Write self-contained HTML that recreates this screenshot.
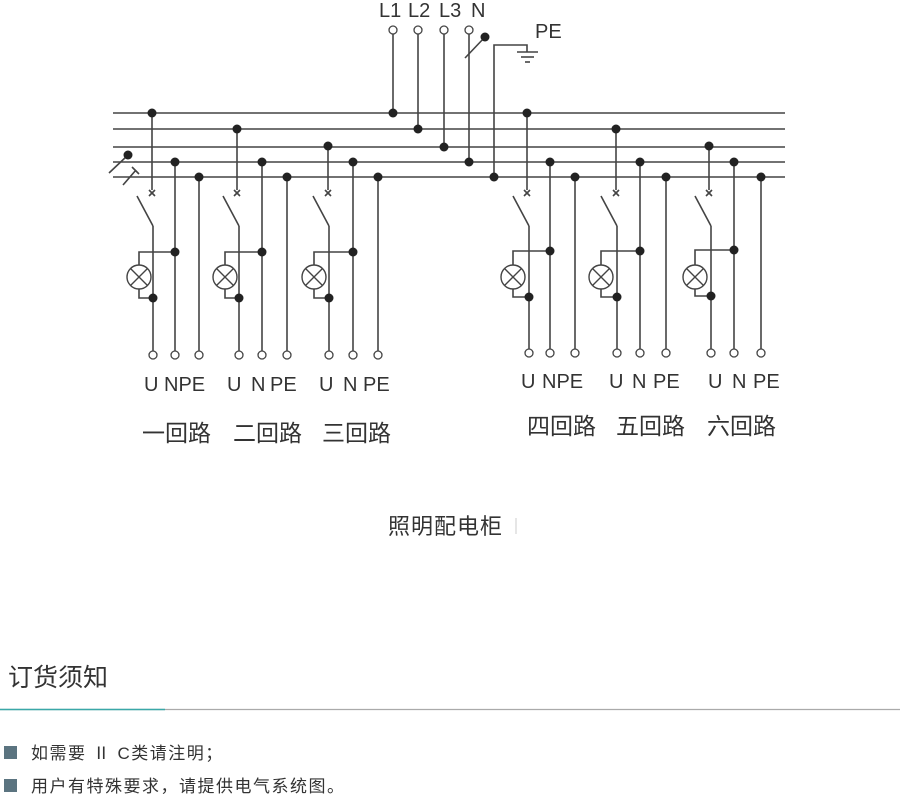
<!DOCTYPE html>
<html><head><meta charset="utf-8"><style>
html,body{margin:0;padding:0;background:#fff;width:900px;height:796px;overflow:hidden;font-family:"Liberation Sans","Noto Sans CJK SC",sans-serif;}
svg{position:absolute;left:0;top:0}
</style></head><body>
<svg width="900" height="796" viewBox="0 0 900 796" xmlns="http://www.w3.org/2000/svg">
<g stroke="#444" stroke-width="1.6" fill="none">
<line x1="113" y1="113" x2="785" y2="113"/>
<line x1="113" y1="129" x2="785" y2="129"/>
<line x1="113" y1="147" x2="785" y2="147"/>
<line x1="113" y1="162" x2="785" y2="162"/>
<line x1="113" y1="177" x2="785" y2="177"/>
<line x1="109" y1="173" x2="127" y2="156"/>
<line x1="123" y1="185" x2="136" y2="170"/>
<line x1="132" y1="167" x2="139" y2="174"/>
<line x1="393" y1="34" x2="393" y2="113"/>
<line x1="418" y1="34" x2="418" y2="129"/>
<line x1="444" y1="34" x2="444" y2="147"/>
<line x1="469" y1="34" x2="469" y2="162"/>
<line x1="465" y1="58" x2="485" y2="37"/>
<polyline points="494,177 494,45 527,45 527,52"/>
<line x1="517" y1="52" x2="538" y2="52"/>
<line x1="521" y1="57" x2="534" y2="57"/>
<line x1="525" y1="62" x2="530" y2="62"/>
</g>
<g stroke="#444" stroke-width="1.3" fill="#fff">
<circle cx="393" cy="30" r="4"/><circle cx="418" cy="30" r="4"/><circle cx="444" cy="30" r="4"/><circle cx="469" cy="30" r="4"/>
</g>
<g fill="#222">
<circle cx="128" cy="155" r="4.5"/>
<circle cx="393" cy="113" r="4.5"/><circle cx="418" cy="129" r="4.5"/><circle cx="444" cy="147" r="4.5"/><circle cx="469" cy="162" r="4.5"/>
<circle cx="485" cy="37" r="4.5"/><circle cx="494" cy="177" r="4.5"/>
</g>

<g stroke="#444" stroke-width="1.6" fill="none">
<line x1="152" y1="113" x2="152" y2="190"/><line x1="149" y1="190" x2="155" y2="196"/><line x1="155" y1="190" x2="149" y2="196"/>
<line x1="137" y1="196" x2="153" y2="226"/><line x1="153" y1="226" x2="153" y2="351"/>
<polyline points="139,265 139,252 175,252"/><polyline points="139,289 139,298 153,298"/>
<line x1="175" y1="162" x2="175" y2="351"/><line x1="199" y1="177" x2="199" y2="351"/>
<line x1="237" y1="129" x2="237" y2="190"/><line x1="234" y1="190" x2="240" y2="196"/><line x1="240" y1="190" x2="234" y2="196"/>
<line x1="223" y1="196" x2="239" y2="226"/><line x1="239" y1="226" x2="239" y2="351"/>
<polyline points="225,265 225,252 262,252"/><polyline points="225,289 225,298 239,298"/>
<line x1="262" y1="162" x2="262" y2="351"/><line x1="287" y1="177" x2="287" y2="351"/>
<line x1="328" y1="147" x2="328" y2="190"/><line x1="325" y1="190" x2="331" y2="196"/><line x1="331" y1="190" x2="325" y2="196"/>
<line x1="313" y1="196" x2="329" y2="226"/><line x1="329" y1="226" x2="329" y2="351"/>
<polyline points="314,265 314,252 353,252"/><polyline points="314,289 314,298 329,298"/>
<line x1="353" y1="162" x2="353" y2="351"/><line x1="378" y1="177" x2="378" y2="351"/>
<line x1="527" y1="113" x2="527" y2="190"/><line x1="524" y1="190" x2="530" y2="196"/><line x1="530" y1="190" x2="524" y2="196"/>
<line x1="513" y1="196" x2="529" y2="226"/><line x1="529" y1="226" x2="529" y2="349"/>
<polyline points="513,265 513,251 550,251"/><polyline points="513,289 513,297 529,297"/>
<line x1="550" y1="162" x2="550" y2="349"/><line x1="575" y1="177" x2="575" y2="349"/>
<line x1="616" y1="129" x2="616" y2="190"/><line x1="613" y1="190" x2="619" y2="196"/><line x1="619" y1="190" x2="613" y2="196"/>
<line x1="601" y1="196" x2="617" y2="226"/><line x1="617" y1="226" x2="617" y2="349"/>
<polyline points="601,265 601,251 640,251"/><polyline points="601,289 601,297 617,297"/>
<line x1="640" y1="162" x2="640" y2="349"/><line x1="666" y1="177" x2="666" y2="349"/>
<line x1="709" y1="147" x2="709" y2="190"/><line x1="706" y1="190" x2="712" y2="196"/><line x1="712" y1="190" x2="706" y2="196"/>
<line x1="695" y1="196" x2="711" y2="226"/><line x1="711" y1="226" x2="711" y2="349"/>
<polyline points="695,265 695,250 734,250"/><polyline points="695,289 695,296 711,296"/>
<line x1="734" y1="162" x2="734" y2="349"/><line x1="761" y1="177" x2="761" y2="349"/>
</g>
<g stroke="#444" stroke-width="1.4" fill="#fff">
<circle cx="139" cy="277" r="12"/><circle cx="225" cy="277" r="12"/><circle cx="314" cy="277" r="12"/>
<circle cx="513" cy="277" r="12"/><circle cx="601" cy="277" r="12"/><circle cx="695" cy="277" r="12"/>
</g>
<g stroke="#444" stroke-width="1.4">
<path d="M130.5 268.5L147.5 285.5M147.5 268.5L130.5 285.5"/>
<path d="M216.5 268.5L233.5 285.5M233.5 268.5L216.5 285.5"/>
<path d="M305.5 268.5L322.5 285.5M322.5 268.5L305.5 285.5"/>
<path d="M504.5 268.5L521.5 285.5M521.5 268.5L504.5 285.5"/>
<path d="M592.5 268.5L609.5 285.5M609.5 268.5L592.5 285.5"/>
<path d="M686.5 268.5L703.5 285.5M703.5 268.5L686.5 285.5"/>
</g>
<g fill="#222">
<circle cx="152" cy="113" r="4.5"/><circle cx="175" cy="162" r="4.5"/><circle cx="199" cy="177" r="4.5"/><circle cx="175" cy="252" r="4.5"/><circle cx="153" cy="298" r="4.5"/>
<circle cx="237" cy="129" r="4.5"/><circle cx="262" cy="162" r="4.5"/><circle cx="287" cy="177" r="4.5"/><circle cx="262" cy="252" r="4.5"/><circle cx="239" cy="298" r="4.5"/>
<circle cx="328" cy="146" r="4.5"/><circle cx="353" cy="162" r="4.5"/><circle cx="378" cy="177" r="4.5"/><circle cx="353" cy="252" r="4.5"/><circle cx="329" cy="298" r="4.5"/>
<circle cx="527" cy="113" r="4.5"/><circle cx="550" cy="162" r="4.5"/><circle cx="575" cy="177" r="4.5"/><circle cx="550" cy="251" r="4.5"/><circle cx="529" cy="297" r="4.5"/>
<circle cx="616" cy="129" r="4.5"/><circle cx="640" cy="162" r="4.5"/><circle cx="666" cy="177" r="4.5"/><circle cx="640" cy="251" r="4.5"/><circle cx="617" cy="297" r="4.5"/>
<circle cx="709" cy="146" r="4.5"/><circle cx="734" cy="162" r="4.5"/><circle cx="761" cy="177" r="4.5"/><circle cx="734" cy="250" r="4.5"/><circle cx="711" cy="296" r="4.5"/>
</g>
<g stroke="#444" stroke-width="1.3" fill="#fff">
<circle cx="153" cy="355" r="4"/><circle cx="175" cy="355" r="4"/><circle cx="199" cy="355" r="4"/>
<circle cx="239" cy="355" r="4"/><circle cx="262" cy="355" r="4"/><circle cx="287" cy="355" r="4"/>
<circle cx="329" cy="355" r="4"/><circle cx="353" cy="355" r="4"/><circle cx="378" cy="355" r="4"/>
<circle cx="529" cy="353" r="4"/><circle cx="550" cy="353" r="4"/><circle cx="575" cy="353" r="4"/>
<circle cx="617" cy="353" r="4"/><circle cx="640" cy="353" r="4"/><circle cx="666" cy="353" r="4"/>
<circle cx="711" cy="353" r="4"/><circle cx="734" cy="353" r="4"/><circle cx="761" cy="353" r="4"/>
</g>
<g font-family="Liberation Sans, sans-serif" font-size="20" fill="#333">
<text x="379" y="17">L1</text><text x="408" y="17">L2</text><text x="439" y="17">L3</text><text x="471" y="17">N</text>
<text x="535" y="38">PE</text>
<text x="144" y="391">U</text><text x="164" y="391">NPE</text>
<text x="227" y="391">U</text><text x="251" y="391">N</text><text x="270" y="391">PE</text>
<text x="319" y="391">U</text><text x="343" y="391">N</text><text x="363" y="391">PE</text>
<text x="521" y="388">U</text><text x="542" y="388">NPE</text>
<text x="609" y="388">U</text><text x="632" y="388">N</text><text x="653" y="388">PE</text>
<text x="708" y="388">U</text><text x="732" y="388">N</text><text x="753" y="388">PE</text>
</g>
<g font-family="Liberation Sans, Noto Sans CJK SC, sans-serif" font-size="23" fill="#333">
<text x="142" y="441">一回路</text><text x="233" y="441">二回路</text><text x="322" y="441">三回路</text>
<text x="527" y="434">四回路</text><text x="616" y="434">五回路</text><text x="707" y="434">六回路</text>
</g>
<text x="388" y="534" font-family="Liberation Sans, Noto Sans CJK SC, sans-serif" font-size="22" fill="#333" letter-spacing="1">照明配电柜</text>
<line x1="516" y1="518" x2="516" y2="534" stroke="#ccc" stroke-width="1"/>
<text x="8" y="686" font-family="Liberation Sans, Noto Sans CJK SC, sans-serif" font-size="25" fill="#333">订货须知</text>
<line x1="0" y1="709.5" x2="900" y2="709.5" stroke="#aaa" stroke-width="1.3"/>
<line x1="0" y1="709.5" x2="165" y2="709.5" stroke="#3aa8a8" stroke-width="1.5"/>
<rect x="4" y="746" width="13" height="13" fill="#5b7480"/>
<rect x="4" y="779" width="13" height="13" fill="#5b7480"/>
<g font-family="Liberation Sans, Noto Sans CJK SC, sans-serif" font-size="17" fill="#333" letter-spacing="1.5">
<text x="31" y="759">如需要 Ⅱ C类请注明；</text>
<text x="31" y="792">用户有特殊要求，请提供电气系统图。</text>
</g>
</svg>
</body></html>
